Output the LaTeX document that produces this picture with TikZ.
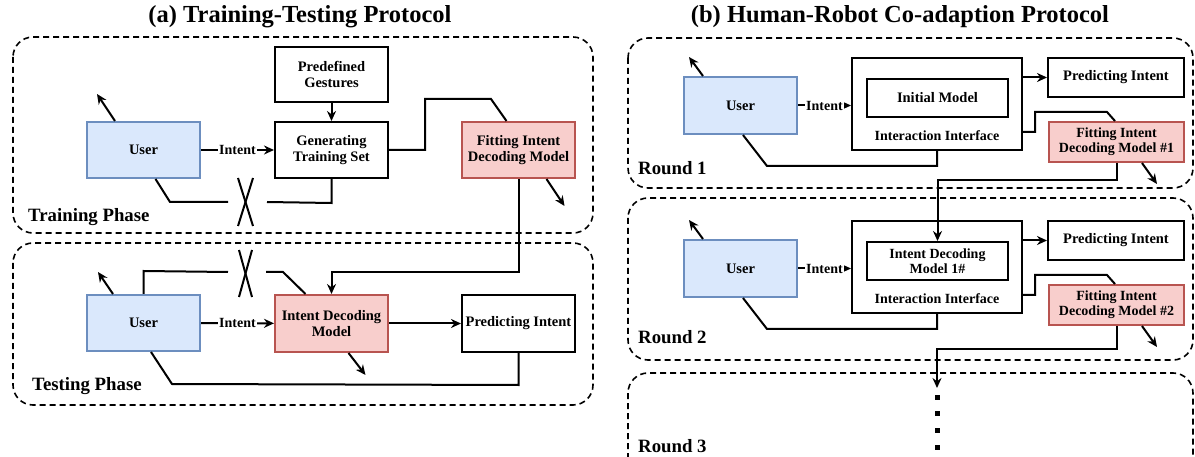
\documentclass[tikz,border=0pt]{standalone}
\usepackage{fontspec}
\setmainfont{Liberation Serif}
\usetikzlibrary{arrows.meta,calc}
\definecolor{ubluef}{HTML}{DAE8FC}
\definecolor{ubluel}{HTML}{6C8EBF}
\definecolor{rfill}{HTML}{F8CECC}
\definecolor{rline}{HTML}{B85450}
\begin{document}
\begin{tikzpicture}[x=1pt,y=-1pt,
  box/.style={draw,line width=2pt,minimum width=113pt,minimum height=56pt,inner sep=1pt,align=center,font=\fontsize{14.5}{16}\selectfont\bfseries},
  userbox/.style={box,fill=ubluef,draw=ubluel},
  redbox/.style={box,fill=rfill,draw=rline},
  conn/.style={line width=2pt},
  arr/.style={conn,-{Stealth[length=10pt,width=9pt]}},
  phase/.style={draw,line width=1.6pt,rounded corners=20pt,dash pattern=on 6pt off 4pt},
  lbl/.style={fill=white,inner sep=1pt,font=\fontsize{14}{16}\selectfont\bfseries},
  phasetxt/.style={anchor=base west,inner sep=0pt,font=\fontsize{18.8}{21}\selectfont\bfseries},
  ttl/.style={font=\fontsize{24.5}{27}\selectfont\bfseries}]
\useasboundingbox (0,0) rectangle (1195,457);

% titles
\node[ttl] (ta) at (300,17) {(a) Training-Testing Protocol};
\node[ttl] (tb) at (900,17) {(b) Human-Robot Co-adaption Protocol};

% phase frames
\draw[phase] (13,37) rectangle (593,233);
\draw[phase] (13,243) rectangle (593,405);
\draw[phase] (628,38) rectangle (1193,188);
\draw[phase] (628,198) rectangle (1193,360);
\begin{scope}
\clip (0,0) rectangle (1195,457);
\draw[phase] (628,373) rectangle (1193,500);
\end{scope}

\node[phasetxt] (tp) at (28,222) {Training Phase};
\node[phasetxt] (sp) at (32,390) {Testing Phase};
\node[phasetxt] (r1) at (638,175) {Round 1};
\node[phasetxt] (r2) at (638,343) {Round 2};
\node[phasetxt] (r3) at (638,452) {Round 3};

% ---------- Training phase ----------
\node[box] (pre) at (331.5,74.5) [minimum height=55pt] {Predefined\\Gestures};
\node[userbox] (u1) at (143.5,150) {User};
\node[box] (gen) at (331.5,150) {Generating\\Training Set};
\node[redbox] (fit) at (518.5,150) {Fitting Intent\\Decoding Model};

\draw[arr] (pre) -- (gen);
\draw[arr] (u1) -- node[lbl]{Intent} (gen);
\draw[arr] ([xshift=-28.5pt]u1.north) -- ++(-18,-27);
\coordinate (ga) at (267,202);
\coordinate (gb) at (228,202);
\draw[conn] (gen.south) -- ++(0,24) -- (ga);
\draw[conn] (gb) -- (170,202) -- ([xshift=12pt]u1.south);
\draw[conn] (238,178) -- (253,226);
\draw[conn] (253,178) -- (238,226);
\draw[conn] (gen.east) -- (425,150) -- (425,99) -- (491,99) -- ([xshift=-12pt]fit.north);
\draw[arr] ([xshift=28pt]fit.south) -- ++(18,27);

% ---------- Testing phase ----------
\node[userbox] (u2) at (143.5,323) {User};
\node[redbox] (idm) at (331.5,323.5) [minimum height=57pt] {Intent Decoding\\Model};
\node[box] (pred) at (518.5,323.5) [minimum height=57pt] {Predicting Intent};

\draw[arr] (fit.south) -- ++(0,93) -| (idm.north);
\draw[arr] (u2) -- node[lbl]{Intent} (idm);
\draw[arr] (idm) -- (pred);
\draw[arr] ([xshift=-30.5pt]u2.north) -- ++(-15,-22);
\coordinate (ta1) at (228,272);
\coordinate (ta2) at (266,272);
\draw[conn] (u2.north) -- ++(0,-23) -- (ta1);
\draw[conn] (ta2) -- (283,272) -- ([xshift=-26pt]idm.north);
\draw[conn] (239,250) -- (252,297);
\draw[conn] (252,250) -- (239,297);
\draw[arr] ([xshift=17pt]idm.south) -- ++(17,22);
\draw[conn] (pred.south) -- ++(0,32) -- (172,384) -- ([xshift=7.5pt]u2.south);

% ---------- Round 1 ----------
\node[userbox] (u3) at (740.5,105.5) [minimum height=57pt] {User};
\node[box] (i1) at (937,104) [minimum width=170pt,minimum height=92pt] {};
\node[font=\fontsize{14}{16}\selectfont\bfseries] (i1t) at ([yshift=15pt]i1.south) {Interaction Interface};
\node[box] (init1) at (937.5,98) [minimum width=141pt,minimum height=38pt] {Initial Model};
\node[box] (pred3) at (1116,77.5) [minimum width=136pt,minimum height=39pt] {Predicting Intent};
\node[redbox] (fit3) at (1116.5,142) [minimum width=135pt,minimum height=40pt,font=\fontsize{14}{15}\selectfont\bfseries] {Fitting Intent\\Decoding Model \#1};

\draw[arr] (u3.east) -- node[lbl]{Intent} (u3.east -| i1.west);
\draw[arr] (i1.east |- pred3.west) -- (pred3.west);
\draw[conn] ([yshift=-28pt]i1.east) -- (1035,132) -- (1035,112) -- (1107,112) -- ([xshift=-1.5pt]fit3.north);
\draw[arr] ([xshift=-37.5pt]u3.north) -- ++(-14,-19);
\draw[conn] ([xshift=2.5pt]u3.south) -- (767,166) -- (937,166) -- (i1.south);
\draw[arr] ([xshift=25.5pt]fit3.south) -- ++(15,21);

% ---------- Round 2 ----------
\node[userbox] (u4) at (740.5,268.5) [minimum height=57pt] {User};
\node[box] (i2) at (937,267) [minimum width=170pt,minimum height=92pt] {};
\node[font=\fontsize{14}{16}\selectfont\bfseries] (i2t) at ([yshift=15pt]i2.south) {Interaction Interface};
\node[box] (init2) at (937.5,261) [minimum width=141pt,minimum height=38pt,font=\fontsize{14}{15}\selectfont\bfseries] {Intent Decoding\\Model 1\#};
\node[box] (pred4) at (1116,240.5) [minimum width=136pt,minimum height=39pt] {Predicting Intent};
\node[redbox] (fit4) at (1116.5,305) [minimum width=135pt,minimum height=40pt,font=\fontsize{14}{15}\selectfont\bfseries] {Fitting Intent\\Decoding Model \#2};

\draw[arr] (fit3.south) -- ++(0,17) -| (init2.north);
\draw[arr] (u4.east) -- node[lbl]{Intent} (u4.east -| i2.west);
\draw[arr] (i2.east |- pred4.west) -- (pred4.west);
\draw[conn] ([yshift=-28pt]i2.east) -- (1035,295) -- (1035,275) -- (1107,275) -- ([xshift=-1.5pt]fit4.north);
\draw[arr] ([xshift=-37.5pt]u4.north) -- ++(-14,-19);
\draw[conn] ([xshift=2.5pt]u4.south) -- (767,329) -- (937,329) -- (i2.south);
\draw[arr] ([xshift=25.5pt]fit4.south) -- ++(15,21);

% ---------- Round 3 ----------
\coordinate (r3in) at (937,388);
\draw[arr] (fit4.south) -- ++(0,23) -| (r3in);
\foreach \yy in {397,413,430,447} {
  \fill (934.5,\yy-2.5) rectangle ++(5,5);
}
\end{tikzpicture}
\end{document}
